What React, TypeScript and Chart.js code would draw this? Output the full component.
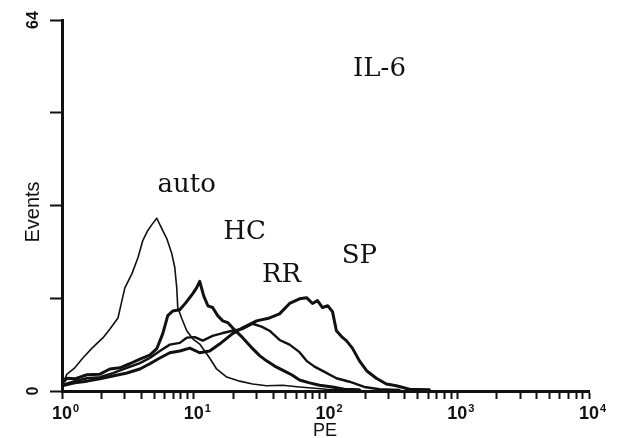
import React, { useEffect, useRef } from "react";
import { Chart, registerables } from "chart.js";

Chart.register(...registerables);

// ---- data (PE fluorescence, events) ----
const AUTO_PE = [1.04, 1.09, 1.25, 1.44, 1.69, 2.05, 2.31, 2.66, 2.85, 3.0, 3.39, 3.77, 4.11, 4.48, 4.81, 5.24, 5.72, 6.24, 6.81, 7.18, 7.43, 7.56, 8.11, 8.85, 9.83, 11.1, 12.1, 13.2, 14.9, 17.8, 22.3, 28.0, 35.7, 47.2, 63.5, 102, 181];
const AUTO_COUNT = [1.9, 2.9, 4.0, 5.7, 7.4, 9.2, 10.7, 12.6, 15.6, 17.8, 20.2, 23.0, 26.0, 27.7, 28.7, 29.8, 28.0, 26.3, 23.7, 21.3, 17.8, 14.4, 12.5, 10.4, 9.0, 8.1, 6.9, 5.7, 3.8, 2.4, 1.7, 1.2, 0.9, 1.0, 0.7, 0.3, 0.2];

const HC_PE = [1.04, 1.09, 1.25, 1.55, 1.94, 2.31, 2.75, 3.27, 3.9, 4.64, 5.24, 5.82, 6.35, 6.93, 7.83, 8.69, 9.83, 10.5, 11.1, 11.9, 12.8, 13.9, 15.2, 16.6, 18.1, 19.7, 23.5, 28.0, 31.6, 35.7, 41.1, 47.2, 55.3, 63.5, 75.7, 90.1, 113, 139, 181];
const HC_COUNT = [1.7, 2.2, 2.1, 2.8, 2.9, 3.8, 4.0, 4.7, 5.5, 6.2, 7.3, 9.9, 13.0, 13.8, 14.0, 15.2, 16.8, 17.8, 18.9, 16.4, 14.7, 14.4, 13.0, 12.1, 11.8, 10.9, 9.2, 7.3, 6.1, 5.2, 4.3, 3.6, 2.8, 1.9, 1.4, 1.0, 0.7, 0.3, 0.2];

const RR_PE = [1.05, 1.25, 1.55, 1.94, 2.43, 3.11, 3.9, 4.64, 5.53, 6.58, 7.83, 8.85, 10.2, 11.7, 13.9, 16.6, 19.7, 23.5, 28.0, 32.7, 37.6, 44.8, 53.4, 63.5, 71.8, 82.5, 98.3, 121, 152, 197, 257, 364];
const RR_COUNT = [1.2, 1.7, 2.2, 2.4, 3.1, 4.0, 4.8, 5.7, 6.9, 8.0, 8.3, 9.2, 9.3, 8.7, 9.5, 10.0, 10.4, 10.7, 11.6, 11.1, 10.4, 8.8, 8.0, 6.7, 5.2, 4.2, 3.3, 2.2, 1.6, 0.7, 0.3, 0.2];

const SP_PE = [1.04, 1.25, 1.55, 1.94, 2.43, 3.11, 3.9, 4.64, 5.53, 6.58, 7.83, 9.33, 11.1, 13.2, 15.7, 19.7, 23.5, 30.0, 37.6, 44.8, 53.4, 63.5, 71.8, 79.7, 86.9, 94.9, 104, 113, 121, 135, 144, 160, 181, 205, 243, 290, 345, 433, 614];
const SP_COUNT = [1.0, 1.4, 1.7, 2.1, 2.6, 3.1, 3.8, 4.7, 5.7, 6.6, 6.9, 7.4, 6.6, 6.9, 8.1, 9.9, 10.9, 12.1, 12.6, 13.3, 15.1, 15.9, 16.1, 15.1, 15.6, 14.4, 14.7, 13.7, 10.4, 9.2, 8.7, 7.4, 5.2, 3.5, 2.2, 1.2, 0.9, 0.3, 0.2];

// ---- axes ----
const X_TICKS = [1, 2, 3, 4, 5, 6, 7, 8, 9, 10, 20, 30, 40, 50, 60, 70, 80, 90, 100, 200, 300, 400, 500, 600, 700, 800, 900, 1000, 2000, 3000, 4000, 5000, 6000, 7000, 8000, 9000, 10000];
const X_MAJOR = [1, 10, 100, 1000, 10000];
const X_EXPONENTS = ["0", "1", "2", "3", "4"];
const Y_TICKS = [0, 16, 32, 48, 64];
const Y_TICK_LABELS = ["0", "", "", "", "64"];
const X_TITLE = "PE";
const Y_TITLE = "Events";

// ---- annotations ----
const NOTE_TEXT = ["IL-6", "auto", "HC", "RR", "SP"];
const NOTE_PE = [257, 8.85, 24.3, 46.4, 181];
const NOTE_COUNT = [55.5, 35.5, 27.3, 19.9, 23.2];

const INK = "#111111";

function pts(xs: number[], ys: number[]) {
  return xs.map((v, i) => ({ x: v, y: ys[i] }));
}

const textPlugin = {
  id: "textPlugin",
  afterDraw(chart: any) {
    const { ctx } = chart;
    const xs = chart.scales.x;
    const ys = chart.scales.y;
    ctx.save();
    ctx.fillStyle = INK;

    // x tick labels 10^n
    X_MAJOR.forEach((v, i) => {
      const px = xs.getPixelForValue(v);
      const py = xs.top + 23;
      ctx.font = 'bold 18px "Liberation Sans"';
      ctx.textAlign = "center";
      ctx.textBaseline = "middle";
      ctx.fillText("10", px, py);
      const w = ctx.measureText("10").width;
      ctx.font = 'bold 11px "Liberation Sans"';
      ctx.textAlign = "left";
      ctx.fillText(X_EXPONENTS[i], px + w / 2 + 1, py - 5);
    });

    // y tick labels (rotated)
    Y_TICKS.forEach((v, i) => {
      const lab = Y_TICK_LABELS[i];
      if (!lab) return;
      const py = ys.getPixelForValue(v);
      ctx.save();
      ctx.translate(34, py);
      ctx.rotate(-Math.PI / 2);
      ctx.font = 'bold 16px "Liberation Sans"';
      ctx.textAlign = "center";
      ctx.textBaseline = "middle";
      ctx.fillText(lab, 0, 0);
      ctx.restore();
    });

    // axis titles
    ctx.save();
    ctx.translate(33, 212);
    ctx.rotate(-Math.PI / 2);
    ctx.font = '20px "Liberation Sans"';
    ctx.textAlign = "center";
    ctx.textBaseline = "middle";
    ctx.fillText(Y_TITLE, 0, 0);
    ctx.restore();

    ctx.font = '18px "Liberation Sans"';
    ctx.textAlign = "center";
    ctx.textBaseline = "middle";
    ctx.fillText(X_TITLE, 325, 431);

    // curve annotations
    ctx.font = '26px "DejaVu Serif"';
    NOTE_TEXT.forEach((t, i) => {
      ctx.fillText(t, xs.getPixelForValue(NOTE_PE[i]), ys.getPixelForValue(NOTE_COUNT[i]));
    });
    ctx.restore();
  },
};

export default function App() {
  const ref = useRef<HTMLCanvasElement | null>(null);

  useEffect(() => {
    if (!ref.current) return;
    const line = (data: any, width: number) => ({
      data,
      borderColor: INK,
      borderWidth: width,
      pointRadius: 0,
      tension: 0,
      fill: false,
      borderJoinStyle: "round" as const,
      borderCapStyle: "round" as const,
    });
    const chart = new Chart(ref.current, {
      type: "line",
      data: {
        datasets: [
          line(pts(AUTO_PE, AUTO_COUNT), 1.6),
          line(pts(HC_PE, HC_COUNT), 3),
          line(pts(RR_PE, RR_COUNT), 2.4),
          line(pts(SP_PE, SP_COUNT), 3),
        ],
      },
      options: {
        responsive: false,
        animation: false,
        layout: { padding: { top: 20, right: 38, left: 0, bottom: 0 } },
        plugins: { legend: { display: false }, tooltip: { enabled: false } },
        scales: {
          x: {
            type: "logarithmic",
            min: 1,
            max: 10000,
            afterBuildTicks: (s: any) => {
              s.ticks = X_TICKS.map((v) => ({ value: v, major: X_MAJOR.includes(v) }));
            },
            afterFit: (s: any) => {
              s.height = 47;
            },
            ticks: { display: false, autoSkip: false },
            grid: {
              drawOnChartArea: false,
              drawTicks: true,
              tickLength: 8,
              tickWidth: 2,
              tickColor: INK,
            },
            border: { display: true, color: INK, width: 3 },
          },
          y: {
            type: "linear",
            min: 0,
            max: 64,
            afterBuildTicks: (s: any) => {
              s.ticks = Y_TICKS.map((v) => ({ value: v }));
            },
            afterFit: (s: any) => {
              s.width = 62;
            },
            ticks: { display: false, autoSkip: false },
            grid: {
              drawOnChartArea: false,
              drawTicks: true,
              tickLength: 12,
              tickWidth: 2,
              tickColor: INK,
            },
            border: { display: true, color: INK, width: 3 },
          },
        },
      },
      plugins: [textPlugin],
    });
    return () => chart.destroy();
  }, []);

  return (
    <div style={{ position: "absolute", left: 0, top: 0, width: 627, height: 438, background: "#fff" }}>
      <canvas ref={ref} width={627} height={438} style={{ display: "block" }} />
    </div>
  );
}
